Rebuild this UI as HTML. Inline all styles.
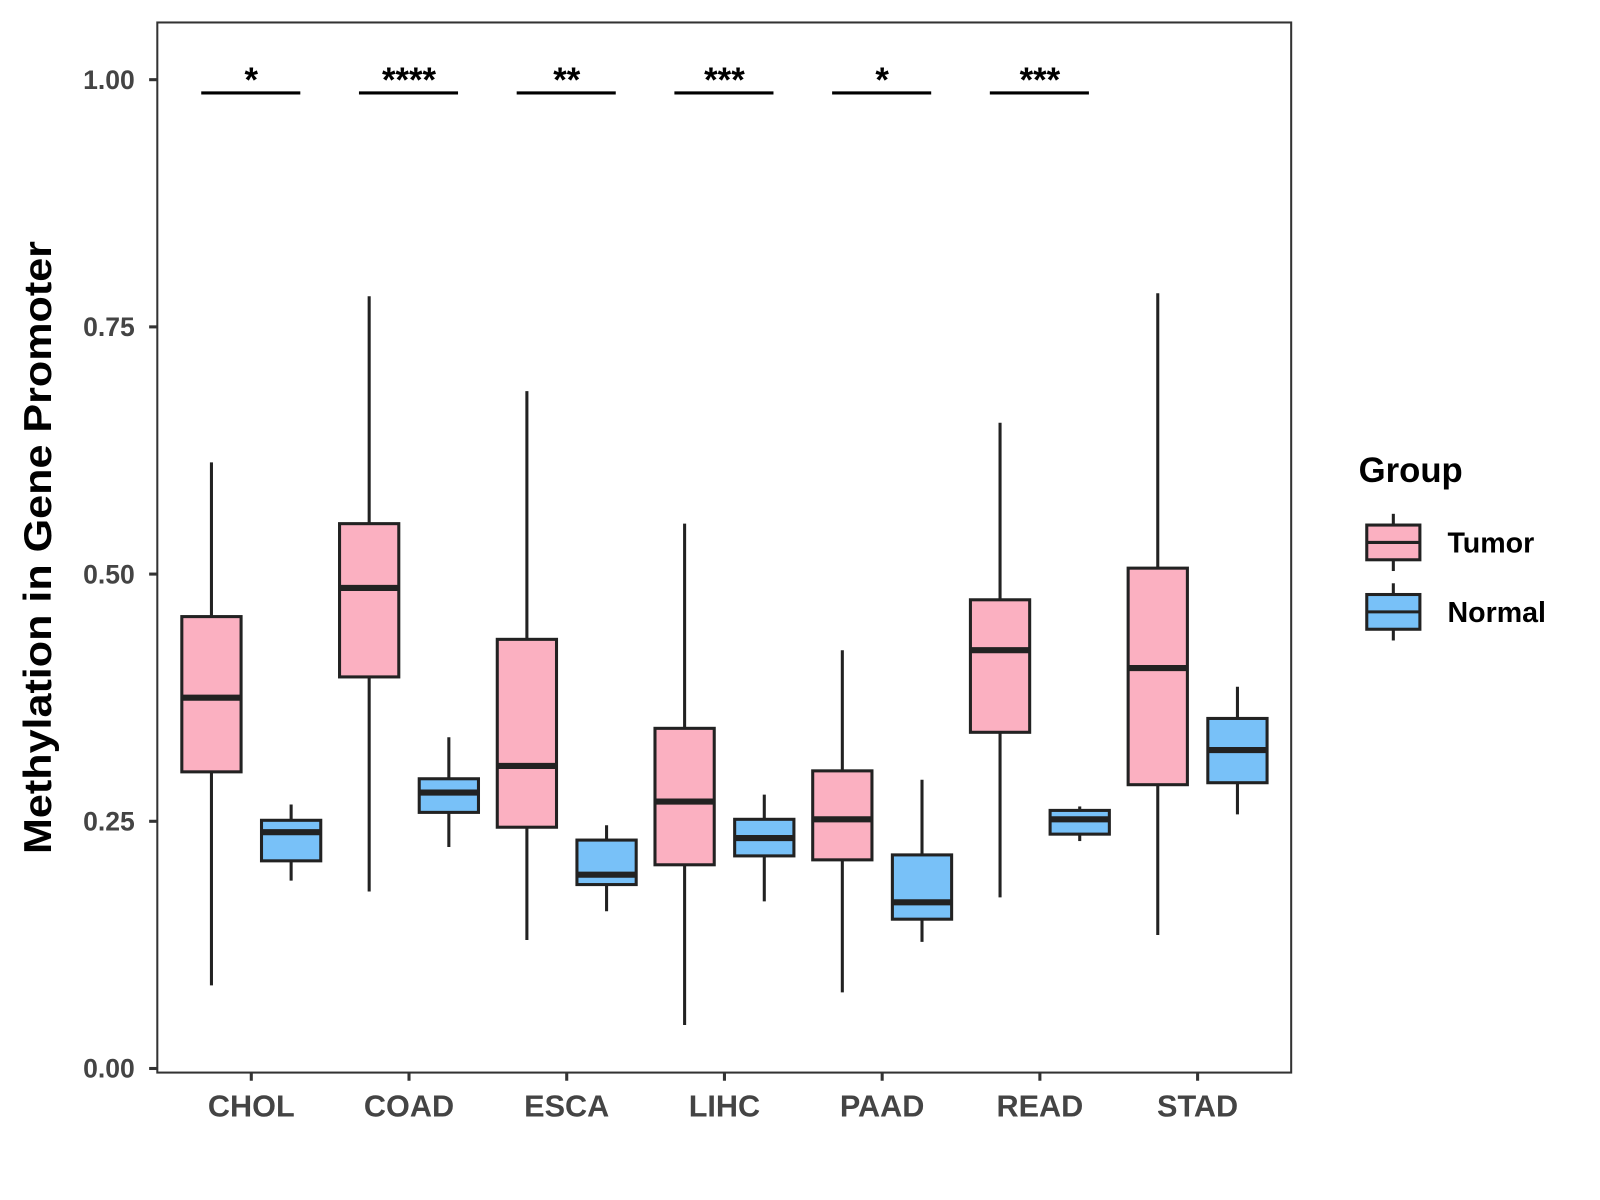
<!DOCTYPE html>
<html><head><meta charset="utf-8"><style>body{margin:0;background:#fff}svg{display:block;font-family:"Liberation Sans",Arial,sans-serif}</style></head>
<body>
<svg width="1600" height="1200"><g id="c" transform="scale(1.0215)"></g></svg>
<script>
const categories=["CHOL","COAD","ESCA","LIHC","PAAD","READ","STAD"];
const tumorStats=[[0.084,0.300,0.375,0.457,0.613],[0.179,0.396,0.486,0.551,0.781],[0.130,0.244,0.306,0.434,0.685],[0.044,0.206,0.270,0.344,0.551],[0.077,0.211,0.252,0.301,0.423],[0.173,0.340,0.423,0.474,0.653],[0.135,0.287,0.405,0.506,0.784]];
const normalStats=[[0.190,0.210,0.239,0.251,0.267],[0.224,0.259,0.279,0.293,0.335],[0.159,0.186,0.196,0.231,0.246],[0.169,0.215,0.233,0.252,0.277],[0.128,0.151,0.168,0.216,0.292],[0.230,0.237,0.252,0.261,0.265],[0.257,0.289,0.322,0.354,0.386]];
const sigLabels=["*","****","**","***","*","***"];
const yTicks=[0,0.25,0.5,0.75,1.0];
const yTickLabels=["0.00","0.25","0.50","0.75","1.00"];
const NS="http://www.w3.org/2000/svg",svg=document.getElementById('c');
const y=v=>1046-968*v, x=i=>246+154.4*i;
function mk(t,a,p){const e=document.createElementNS(NS,t);for(const k in a)e.setAttribute(k,a[k]);(p||svg).appendChild(e);return e;}
const panel=mk('rect',{x:154,y:22,width:1110,height:1028,fill:'#fff',stroke:'#333','stroke-width':2});


yTicks.forEach((v,i)=>{
 const t=mk('line',{x1:146,x2:154,y1:y(v),y2:y(v),stroke:'#333','stroke-width':3});
 
 
 const l=mk('text',{x:132,y:y(v)+9,'text-anchor':'end','font-size':26,'font-weight':'bold',fill:'#444'});l.textContent=yTickLabels[i];
 
 
});
function box(cx,s,fill,name){
 const g=mk('g',{});
 
 
 mk('line',{x1:cx,x2:cx,y1:y(s[0]),y2:y(s[4]),stroke:'#222','stroke-width':3},g);
 mk('rect',{x:cx-29,y:y(s[3]),width:58,height:y(s[1])-y(s[3]),fill:fill,stroke:'#222','stroke-width':3},g);
 mk('line',{x1:cx-29,x2:cx+29,y1:y(s[2]),y2:y(s[2]),stroke:'#222','stroke-width':6},g);
}
categories.forEach((c,i)=>{
 const cx=x(i);
 box(cx-39,tumorStats[i],'#FBB0C1','tumor-box-'+c.toLowerCase());
 box(cx+39,normalStats[i],'#78C1F8','normal-box-'+c.toLowerCase());
 const t=mk('line',{x1:cx,x2:cx,y1:1050,y2:1058,stroke:'#333','stroke-width':3});
 
 
 const l=mk('text',{x:cx,y:1093,'text-anchor':'middle','font-size':30,'font-weight':'bold',fill:'#444'});l.textContent=c;
 
 
 if(i<sigLabels.length){
  const b=mk('line',{x1:cx-49,x2:cx+48,y1:91,y2:91,stroke:'#000','stroke-width':3});
  
  
  const s=mk('text',{x:cx,y:90,'text-anchor':'middle','font-size':34,'font-weight':'bold',fill:'#000'});s.textContent=sigLabels[i];
  
  
 }
});
const yt=mk('text',{x:0,y:0,transform:'translate(50,536) rotate(-90)','text-anchor':'middle','font-size':38,'font-weight':'bold',fill:'#000',textLength:600,lengthAdjust:'spacingAndGlyphs'});yt.textContent='Methylation in Gene Promoter';


const lt=mk('text',{x:1330,y:472,'font-size':34,'font-weight':'bold',fill:'#000'});lt.textContent='Group';


[['Tumor','#FBB0C1',531],['Normal','#78C1F8',599]].forEach(([n,f,cy])=>{
 const g=mk('g',{});
 
 
 mk('line',{x1:1364,x2:1364,y1:cy-28,y2:cy+28,stroke:'#222','stroke-width':3},g);
 mk('rect',{x:1338,y:cy-17,width:52,height:34,fill:f,stroke:'#222','stroke-width':3},g);
 mk('line',{x1:1338,x2:1390,y1:cy,y2:cy,stroke:'#222','stroke-width':3},g);
 const t=mk('text',{x:1417,y:cy+10,'font-size':28,'font-weight':'bold',fill:'#000'},g);t.textContent=n;
});
</script>
</body></html>
